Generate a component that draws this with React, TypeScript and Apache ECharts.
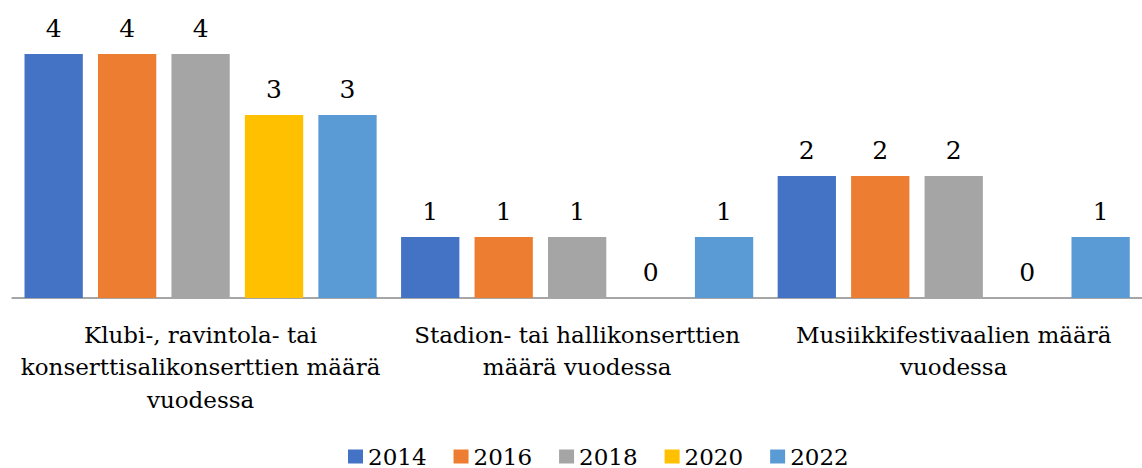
import React, { useEffect, useRef } from "react";
import * as echarts from "echarts";

const categories = [
  "Klubi-, ravintola- tai\nkonserttisalikonserttien määrä\nvuodessa",
  "Stadion- tai hallikonserttien\nmäärä vuodessa",
  "Musiikkifestivaalien määrä\nvuodessa",
];
const seriesNames = ["2014", "2016", "2018", "2020", "2022"];
const values2014 = [4, 1, 2];
const values2016 = [4, 1, 2];
const values2018 = [4, 1, 2];
const values2020 = [3, 0, 0];
const values2022 = [3, 1, 1];
const colors = ["#4472C4", "#ED7D31", "#A5A5A5", "#FFC000", "#5B9BD5"];

const FONT = "DejaVu Serif";

export default function App() {
  const ref = useRef<HTMLDivElement>(null);
  useEffect(() => {
    if (!ref.current) return;
    const chart = echarts.init(ref.current, null, { renderer: "svg" });
    const allValues = [values2014, values2016, values2018, values2020, values2022];
    chart.setOption({
      animation: false,
      color: colors,
      textStyle: { fontFamily: FONT },
      grid: { left: 12.3, top: 54, width: 1145, height: 244, containLabel: false },
      legend: {
        data: seriesNames,
        left: 343,
        top: 440,
        itemWidth: 15,
        itemHeight: 14,
        itemGap: 27,
        icon: "rect",
        textStyle: { fontFamily: FONT, fontSize: 23, lineHeight: 22, color: "#000" },
      },
      xAxis: {
        type: "category",
        data: categories,
        axisLine: { show: true, lineStyle: { color: "#A6A6A6", width: 2 } },
        axisTick: { show: false },
        axisLabel: {
          interval: 0,
          margin: 20.5,
          fontFamily: FONT,
          fontSize: 23,
          lineHeight: 32.5,
          color: "#000",
          align: "center",
        },
      },
      yAxis: {
        type: "value",
        min: 0,
        max: 4,
        show: false,
        splitLine: { show: false },
      },
      series: seriesNames.map((name, i) => ({
        name,
        type: "bar",
        data: allValues[i],
        barWidth: 58.3,
        barGap: "26%",
        itemStyle: { color: colors[i] },
        label: {
          show: true,
          position: "top",
          distance: 13,
          fontFamily: FONT,
          fontSize: 25,
          color: "#000",
        },
      })),
    });
    return () => chart.dispose();
  }, []);
  return (
    <div
      ref={ref}
      style={{ position: "fixed", left: 0, top: 0, width: 1142, height: 468, background: "#fff" }}
    />
  );
}
